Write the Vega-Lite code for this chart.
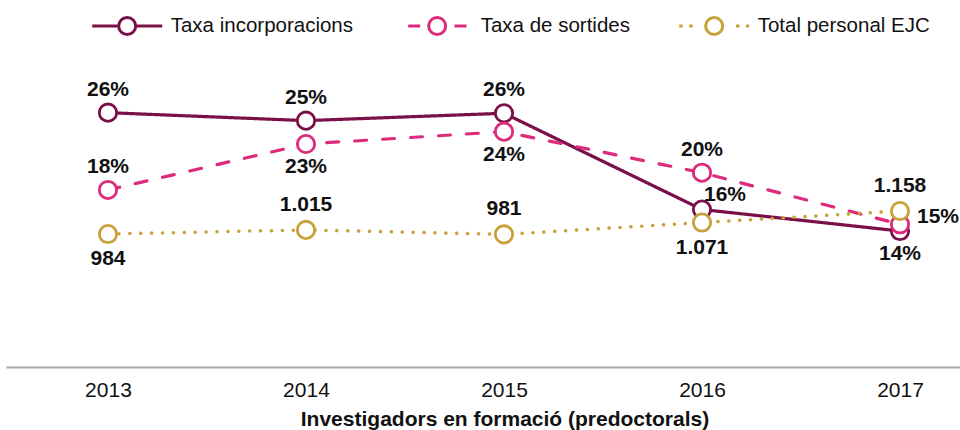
{
  "$schema": "https://vega.github.io/schema/vega-lite/v6.json",
  "width": 954,
  "height": 292,
  "autosize": {"type": "none"},
  "padding": {"left": 6, "top": 75, "right": 0, "bottom": 63},
  "config": {
    "view": {"stroke": null},
    "font": "Liberation Sans",
    "locale": {"number": {"decimal": ",", "thousands": ".", "grouping": [3], "currency": ["", " €"]}}
  },
  "data": {
    "values": [
      {"year": 2013, "series": "Taxa incorporacions", "value": 0.2613},
      {"year": 2013, "series": "Taxa de sortides", "value": 0.1819},
      {"year": 2013, "series": "Total personal EJC", "value": 984},
      {"year": 2014, "series": "Taxa incorporacions", "value": 0.2531},
      {"year": 2014, "series": "Taxa de sortides", "value": 0.2291},
      {"year": 2014, "series": "Total personal EJC", "value": 1015},
      {"year": 2015, "series": "Taxa incorporacions", "value": 0.2607},
      {"year": 2015, "series": "Taxa de sortides", "value": 0.2418},
      {"year": 2015, "series": "Total personal EJC", "value": 981},
      {"year": 2016, "series": "Taxa incorporacions", "value": 0.1618},
      {"year": 2016, "series": "Taxa de sortides", "value": 0.1996},
      {"year": 2016, "series": "Total personal EJC", "value": 1071},
      {"year": 2017, "series": "Taxa incorporacions", "value": 0.1397},
      {"year": 2017, "series": "Taxa de sortides", "value": 0.1466},
      {"year": 2017, "series": "Total personal EJC", "value": 1158}
    ]
  },
  "encoding": {
    "x": {
      "field": "year",
      "type": "quantitative",
      "scale": {"domain": [2012.485, 2017.303], "nice": false, "zero": false},
      "axis": {
        "values": [2013, 2014, 2015, 2016, 2017],
        "format": "d",
        "title": "Investigadors en formació (predoctorals)",
        "grid": false,
        "ticks": false,
        "labelFlush": false,
        "domainColor": "#a6a6a6",
        "domainWidth": 2,
        "labelFontSize": 21,
        "labelColor": "#111111",
        "labelPadding": 12,
        "titleFontSize": 21,
        "titleFontWeight": "bold",
        "titleColor": "#111111",
        "titlePadding": 8,
        "titleX": 498.5
      }
    }
  },
  "layer": [
    {
      "transform": [{"filter": "datum.series !== 'Total personal EJC'"}],
      "mark": {"type": "line", "strokeWidth": 3.2, "strokeCap": "round"},
      "encoding": {
        "y": {"field": "value", "type": "quantitative", "scale": {"domain": [0, 0.3], "nice": false, "zero": false}, "axis": null},
        "stroke": {
          "field": "series", "type": "nominal",
          "scale": {"domain": ["Taxa incorporacions", "Taxa de sortides", "Total personal EJC"], "range": ["#7b1048", "#dd2a7b", "#c8a13a"]},
          "legend": null
        },
        "strokeDash": {
          "field": "series", "type": "nominal",
          "scale": {"domain": ["Taxa incorporacions", "Taxa de sortides", "Total personal EJC"], "range": [[1, 0], [12, 16], [0.1, 10.8]]},
          "legend": null
        }
      }
    },
    {
      "transform": [{"filter": "datum.series === 'Total personal EJC'"}],
      "mark": {"type": "line", "strokeWidth": 3.5, "strokeCap": "round"},
      "encoding": {
        "y": {"field": "value", "type": "quantitative", "scale": {"domain": [-22, 2187], "nice": false, "zero": false}, "axis": null},
        "stroke": {
          "field": "series", "type": "nominal",
          "scale": {"domain": ["Taxa incorporacions", "Taxa de sortides", "Total personal EJC"], "range": ["#7b1048", "#dd2a7b", "#c8a13a"]},
          "legend": null
        },
        "strokeDash": {
          "field": "series", "type": "nominal",
          "scale": {"domain": ["Taxa incorporacions", "Taxa de sortides", "Total personal EJC"], "range": [[1, 0], [12, 16], [0.1, 10.8]]},
          "legend": null
        }
      }
    },
    {
      "transform": [{"filter": "datum.series !== 'Total personal EJC'"}],
      "mark": {"type": "point", "filled": false, "fill": "white", "fillOpacity": 1, "opacity": 1, "size": 300, "strokeWidth": 2.8},
      "encoding": {
        "y": {"field": "value", "type": "quantitative", "scale": {"domain": [0, 0.3], "nice": false, "zero": false}, "axis": null},
        "color": {
          "field": "series", "type": "nominal",
          "scale": {"domain": ["Total personal EJC", "Taxa de sortides", "Taxa incorporacions"], "range": ["#c8a13a", "#dd2a7b", "#7b1048"]},
          "legend": {
            "title": null, "orient": "none", "legendX": 84.7, "legendY": -86, "direction": "horizontal",
            "symbolType": "M-1,0L-0.243,0A0.243,0.243,0,1,1,0.243,0A0.243,0.243,0,1,1,-0.243,0L0.243,0L1,0",
            "symbolSize": 4900, "symbolStrokeWidth": 3,
            "symbolDash": {"expr": "datum.value === 'Taxa de sortides' ? [0, 6, 12, 8.5, 53.6, 25.3, 12, 6] : datum.value === 'Total personal EJC' ? [3.5, 6.5, 3.5, 13, 53.6, 29.8, 3.5, 6.5, 3.5, 10] : [80.1, 16.8, 30, 0]"},
            "labelFontSize": 20.5, "labelColor": "#111111", "labelOffset": 7, "labelLimit": 500,
            "columnPadding": 42, "padding": 0,
            "values": ["Taxa incorporacions", "Taxa de sortides", "Total personal EJC"]
          }
        }
      }
    },
    {
      "transform": [{"filter": "datum.series === 'Total personal EJC'"}],
      "mark": {"type": "point", "filled": false, "fill": "white", "fillOpacity": 1, "opacity": 1, "size": 300, "strokeWidth": 2.8},
      "encoding": {
        "y": {"field": "value", "type": "quantitative", "scale": {"domain": [-22, 2187], "nice": false, "zero": false}, "axis": null},
        "color": {
          "field": "series", "type": "nominal",
          "scale": {"domain": ["Total personal EJC", "Taxa de sortides", "Taxa incorporacions"], "range": ["#c8a13a", "#dd2a7b", "#7b1048"]},
          "legend": {
            "title": null, "orient": "none", "legendX": 84.7, "legendY": -86, "direction": "horizontal",
            "symbolType": "M-1,0L-0.243,0A0.243,0.243,0,1,1,0.243,0A0.243,0.243,0,1,1,-0.243,0L0.243,0L1,0",
            "symbolSize": 4900, "symbolStrokeWidth": 3,
            "symbolDash": {"expr": "datum.value === 'Taxa de sortides' ? [0, 6, 12, 8.5, 53.6, 25.3, 12, 6] : datum.value === 'Total personal EJC' ? [3.5, 6.5, 3.5, 13, 53.6, 29.8, 3.5, 6.5, 3.5, 10] : [80.1, 16.8, 30, 0]"},
            "labelFontSize": 20.5, "labelColor": "#111111", "labelOffset": 7, "labelLimit": 500,
            "columnPadding": 42, "padding": 0,
            "values": ["Taxa incorporacions", "Taxa de sortides", "Total personal EJC"]
          }
        }
      }
    },
    {
      "transform": [{"filter": "(datum.series === 'Taxa incorporacions' && datum.year <= 2015) || (datum.series === 'Taxa de sortides' && (datum.year === 2013 || datum.year === 2016))"}],
      "mark": {"type": "text", "fontSize": 21, "fontWeight": "bold", "color": "#111111", "dy": -23},
      "encoding": {
        "y": {"field": "value", "type": "quantitative", "scale": {"domain": [0, 0.3], "nice": false, "zero": false}, "axis": null},
        "text": {"field": "value", "type": "quantitative", "format": ".0%"}
      }
    },
    {
      "transform": [{"filter": "(datum.series === 'Taxa incorporacions' && datum.year === 2017) || (datum.series === 'Taxa de sortides' && (datum.year === 2014 || datum.year === 2015))"}],
      "mark": {"type": "text", "fontSize": 21, "fontWeight": "bold", "color": "#111111", "dy": 23},
      "encoding": {
        "y": {"field": "value", "type": "quantitative", "scale": {"domain": [0, 0.3], "nice": false, "zero": false}, "axis": null},
        "text": {"field": "value", "type": "quantitative", "format": ".0%"}
      }
    },
    {
      "transform": [{"filter": "datum.series === 'Taxa incorporacions' && datum.year === 2016"}],
      "mark": {"type": "text", "fontSize": 21, "fontWeight": "bold", "color": "#111111", "align": "left", "dx": 2, "dy": -15},
      "encoding": {
        "y": {"field": "value", "type": "quantitative", "scale": {"domain": [0, 0.3], "nice": false, "zero": false}, "axis": null},
        "text": {"field": "value", "type": "quantitative", "format": ".0%"}
      }
    },
    {
      "transform": [{"filter": "datum.series === 'Taxa de sortides' && datum.year === 2017"}],
      "mark": {"type": "text", "fontSize": 21, "fontWeight": "bold", "color": "#111111", "align": "left", "dx": 17, "dy": -7},
      "encoding": {
        "y": {"field": "value", "type": "quantitative", "scale": {"domain": [0, 0.3], "nice": false, "zero": false}, "axis": null},
        "text": {"field": "value", "type": "quantitative", "format": ".0%"}
      }
    },
    {
      "transform": [{"filter": "datum.series === 'Total personal EJC' && (datum.year === 2014 || datum.year === 2015 || datum.year === 2017)"}],
      "mark": {"type": "text", "fontSize": 21, "fontWeight": "bold", "color": "#111111", "dy": -25},
      "encoding": {
        "y": {"field": "value", "type": "quantitative", "scale": {"domain": [-22, 2187], "nice": false, "zero": false}, "axis": null},
        "text": {"field": "value", "type": "quantitative", "format": ",.0f"}
      }
    },
    {
      "transform": [{"filter": "datum.series === 'Total personal EJC' && (datum.year === 2013 || datum.year === 2016)"}],
      "mark": {"type": "text", "fontSize": 21, "fontWeight": "bold", "color": "#111111", "dy": 25},
      "encoding": {
        "y": {"field": "value", "type": "quantitative", "scale": {"domain": [-22, 2187], "nice": false, "zero": false}, "axis": null},
        "text": {"field": "value", "type": "quantitative", "format": ",.0f"}
      }
    }
  ],
  "resolve": {"scale": {"y": "independent"}}
}
